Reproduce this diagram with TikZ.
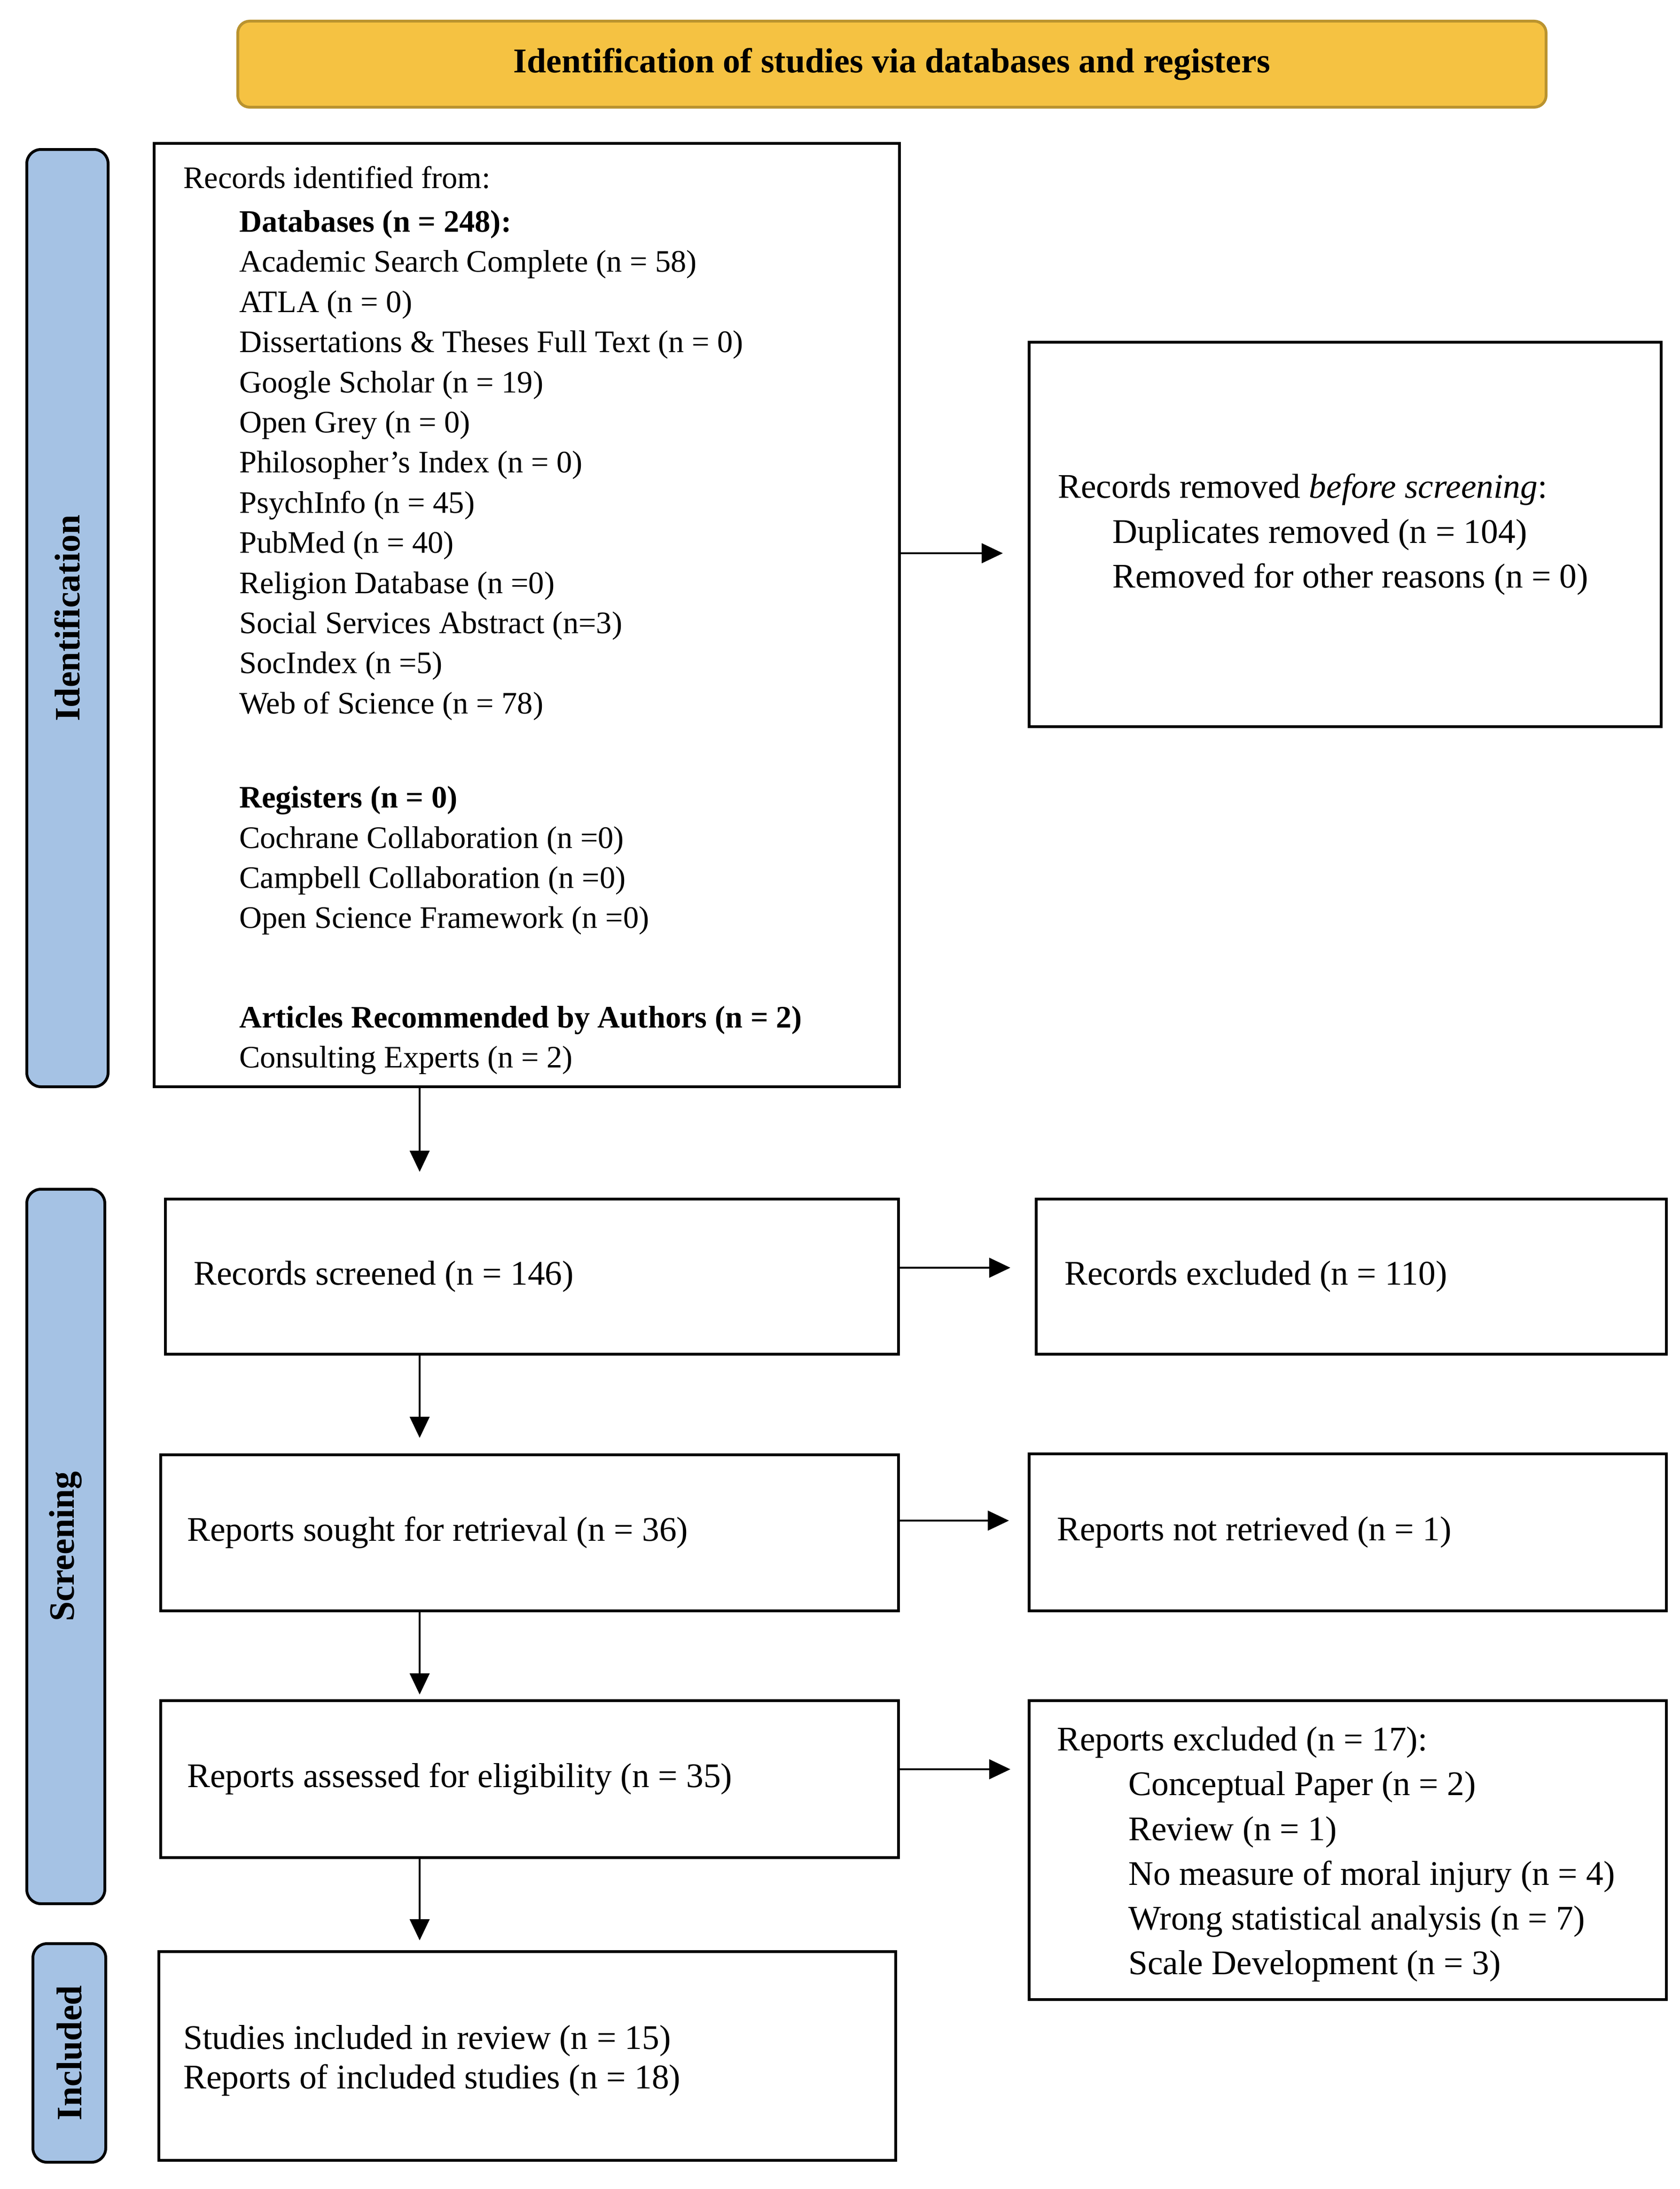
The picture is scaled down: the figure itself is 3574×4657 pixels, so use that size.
\documentclass[tikz,border=0pt]{standalone}
\usepackage{fontspec}
\setmainfont{Liberation Serif}
\usetikzlibrary{arrows.meta}
\definecolor{hdrfill}{HTML}{F5C242}
\definecolor{hdrline}{HTML}{BA932F}
\definecolor{barfill}{HTML}{A5C2E4}
\begin{document}
\begin{tikzpicture}[x=1pt,y=-1pt,
  box/.style={draw=black, line width=6pt, inner sep=0pt},
  txt/.style={inner sep=0pt, align=left, anchor=west,
              font=\fontsize{73.5}{95.3}\selectfont},
  bar/.style={draw=black, line width=6pt, fill=barfill, rounded corners=30pt,
              inner sep=0pt, font=\fontsize{76}{90}\selectfont\bfseries},
  hdr/.style={draw=hdrline, line width=6pt, fill=hdrfill, rounded corners=25pt,
              inner sep=0pt, font=\fontsize{74}{90}\selectfont\bfseries},
  arr/.style={draw=black, line width=3.5pt, -{Triangle[length=45pt,width=42pt]}}
]
\useasboundingbox (0,0) rectangle (3574,4657);

% header
\node[hdr, minimum width=2784pt, minimum height=183pt] (hdr) at (1898,136.5)
  {Identification of studies via databases and registers};

% side bars
\node[bar, rotate=90, minimum width=1994pt, minimum height=173pt] (idbar) at (143.5,1315) {Identification};
\node[bar, rotate=90, minimum width=1520pt, minimum height=166pt] (scrbar) at (140,3290) {Screening};
\node[bar, rotate=90, minimum width=465pt, minimum height=155pt] (incbar) at (147.5,4367.5) {Included};

% identification boxes
\node[box, minimum width=1586pt, minimum height=2007pt] (idbox) at (1121,1308.5) {};
\node[anchor=north west, inner sep=0pt, align=left, font=\fontsize{66.5}{85.4}\selectfont] (idtext) at (390,353)
 {Records identified from:\\[8pt]
  \hspace*{119pt}\textbf{Databases (n = 248):}\\
  \hspace*{119pt}Academic Search Complete (n = 58)\\
  \hspace*{119pt}ATLA (n = 0)\\
  \hspace*{119pt}Dissertations \& Theses Full Text (n = 0)\\
  \hspace*{119pt}Google Scholar (n = 19)\\
  \hspace*{119pt}Open Grey (n = 0)\\
  \hspace*{119pt}Philosopher’s Index (n = 0)\\
  \hspace*{119pt}PsychInfo (n = 45)\\
  \hspace*{119pt}PubMed (n = 40)\\
  \hspace*{119pt}Religion Database (n =0)\\
  \hspace*{119pt}Social Services Abstract (n=3)\\
  \hspace*{119pt}SocIndex (n =5)\\
  \hspace*{119pt}Web of Science (n = 78)\\[115pt]
  \hspace*{119pt}\textbf{Registers (n = 0)}\\
  \hspace*{119pt}Cochrane Collaboration (n =0)\\
  \hspace*{119pt}Campbell Collaboration (n =0)\\
  \hspace*{119pt}Open Science Framework (n =0)\\[126pt]
  \hspace*{119pt}\textbf{Articles Recommended by Authors (n = 2)}\\
  \hspace*{119pt}Consulting Experts (n = 2)};

\node[box, minimum width=1345pt, minimum height=818pt] (removed) at (2862.5,1137) {};
\node[txt] (removedtext) at ([xshift=64pt]removed.west)
 {Records removed \textit{before screening}:\\
  \hspace*{116pt}Duplicates removed (n = 104)\\
  \hspace*{116pt}Removed for other reasons (n = 0)};

% screening boxes
\node[box, minimum width=1560pt, minimum height=330pt] (screened) at (1132,2716) {};
\node[txt] (screenedtext) at ([xshift=63pt]screened.west) {Records screened (n = 146)};
\node[box, minimum width=1341pt, minimum height=330pt] (excluded) at (2875.5,2716) {};
\node[txt] (excludedtext) at ([xshift=63pt]excluded.west) {Records excluded (n = 110)};
\node[box, minimum width=1570pt, minimum height=332pt] (sought) at (1127,3261) {};
\node[txt] (soughttext) at ([xshift=59pt]sought.west) {Reports sought for retrieval (n = 36)};
\node[box, minimum width=1356pt, minimum height=334pt] (notret) at (2868,3260) {};
\node[txt] (notrettext) at ([xshift=62pt]notret.west) {Reports not retrieved (n = 1)};
\node[box, minimum width=1570pt, minimum height=334pt] (assessed) at (1127,3785) {};
\node[txt] (assessedtext) at ([xshift=59pt]assessed.west) {Reports assessed for eligibility (n = 35)};
\node[box, minimum width=1356pt, minimum height=636pt] (repexcl) at (2868,3936) {};
\node[txt] (repexcltext) at ([xshift=62pt,yshift=-9pt]repexcl.west)
 {Reports excluded (n = 17):\\
  \hspace*{152pt}Conceptual Paper (n = 2)\\
  \hspace*{152pt}Review (n = 1)\\
  \hspace*{152pt}No measure of moral injury (n = 4)\\
  \hspace*{152pt}Wrong statistical analysis (n = 7)\\
  \hspace*{152pt}Scale Development (n = 3)};

% included
\node[box, minimum width=1568pt, minimum height=444pt] (included) at (1122,4374) {};
\node[txt, font=\fontsize{73.5}{83.5}\selectfont] (includedtext) at ([xshift=55pt,yshift=-10pt]included.west)
 {Studies included in review (n = 15)\\
  Reports of included studies (n = 18)};

% helper coordinates
\coordinate (dx) at (893,0);
\coordinate (y1) at (0,1177);
\coordinate (y2) at (0,2697);
\coordinate (y3) at (0,3235);
\coordinate (y4) at (0,3764);

% horizontal arrows
\draw[arr, shorten >=53pt] (idbox.east |- y1) -- (removed.west |- y1);
\draw[arr, shorten >=52pt] (screened.east |- y2) -- (excluded.west |- y2);
\draw[arr, shorten >=40pt] (sought.east |- y3) -- (notret.west |- y3);
\draw[arr, shorten >=37pt] (assessed.east |- y4) -- (repexcl.west |- y4);

% vertical arrows
\draw[arr, shorten >=55pt] (idbox.south -| dx) -- (screened.north -| dx);
\draw[arr, shorten >=33pt] (screened.south -| dx) -- (sought.north -| dx);
\draw[arr, shorten >=10pt] (sought.south -| dx) -- (assessed.north -| dx);
\draw[arr, shorten >=21pt] (assessed.south -| dx) -- (included.north -| dx);
\end{tikzpicture}
\end{document}
